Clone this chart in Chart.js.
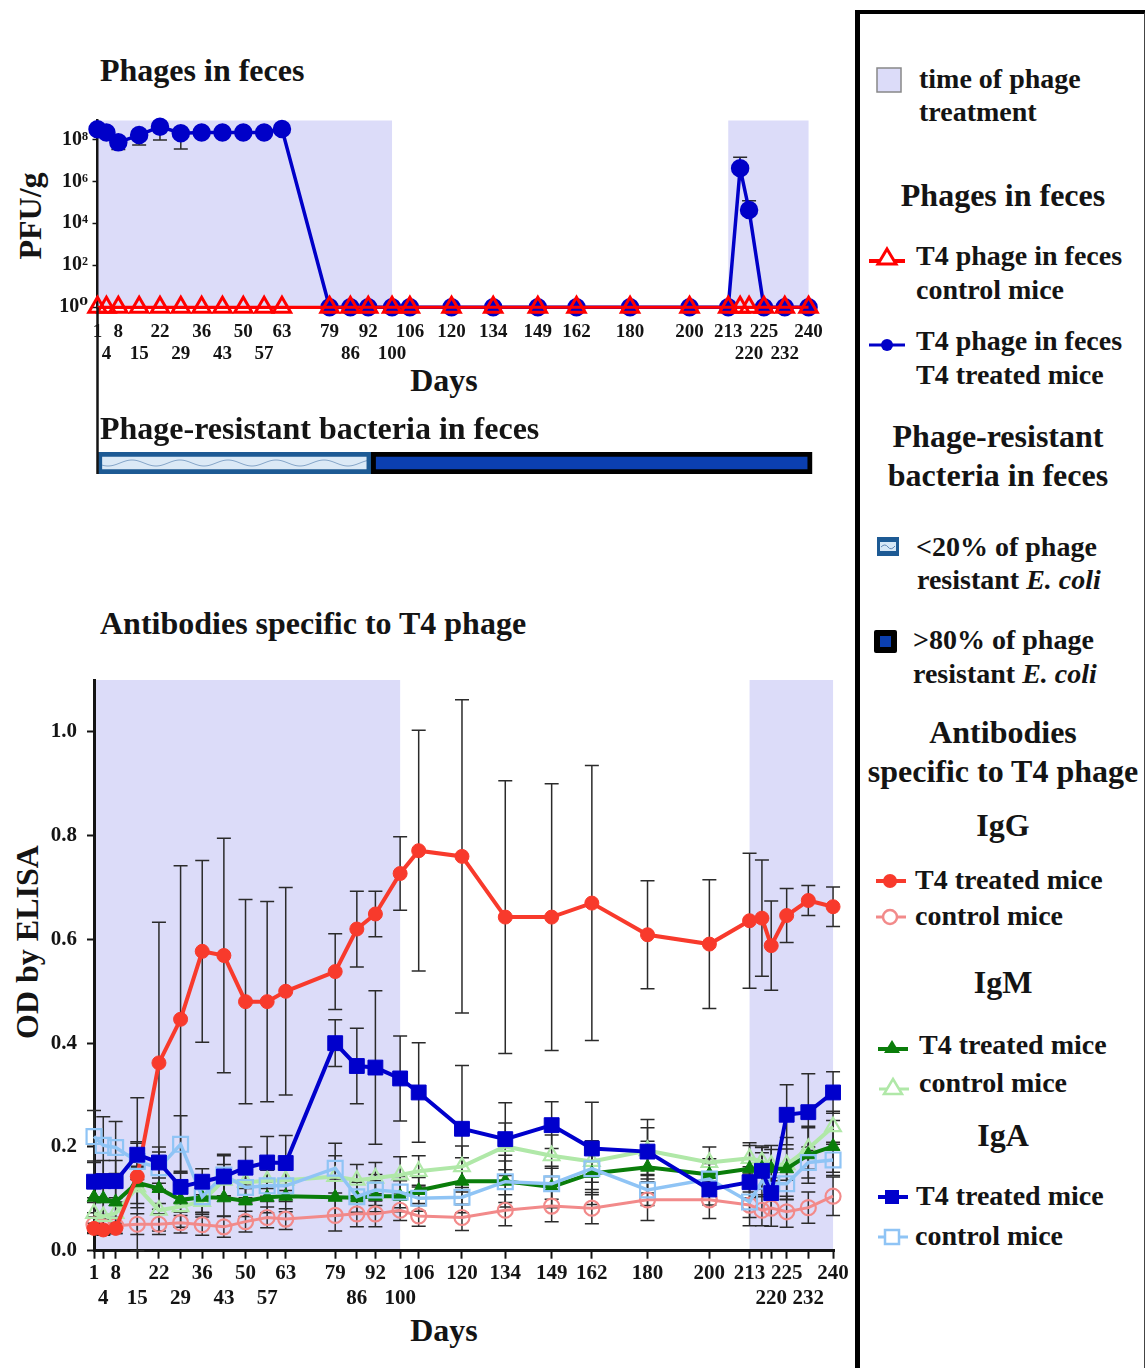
<!DOCTYPE html>
<html>
<head>
<meta charset="utf-8">
<title>T4 phage in mice</title>
<script src="https://cdn.jsdelivr.net/npm/chart.js@4.4.1/dist/chart.umd.min.js"></script>
<style>
  body { margin:0; width:1145px; height:1368px; position:relative; overflow:hidden; background:#fff;
         font-family:'Liberation Serif','DejaVu Serif',serif; font-weight:bold; color:#141414; }
  .box { position:absolute; }
  .t { position:absolute; white-space:nowrap; line-height:1; }
  .h { font-size:32px; }
  .li { font-size:28px; }
  .c { text-align:center; width:284px; left:861px; }
  .mid { transform:translateX(-50%); }
  .vt { position:absolute; white-space:nowrap; line-height:1; font-size:32px; transform:translate(-50%,-50%) rotate(-90deg); }
  #legend { position:absolute; left:855px; top:10px; width:284px; height:1370px;
            border-left:5px solid #000; border-top:4px solid #000; border-right:2px solid #444; }
  svg { position:absolute; }
</style>
</head>
<body>
<!-- plot titles -->
<div class="t h" style="left:100px;top:54px">Phages in feces</div>
<div class="t h" style="left:100px;top:412px;z-index:2">Phage-resistant bacteria in feces</div>
<div class="t h" style="left:100px;top:607px">Antibodies specific to T4 phage</div>
<div class="t h mid" style="left:444px;top:364px">Days</div>
<div class="t h mid" style="left:444px;top:1314px">Days</div>
<div class="vt" style="left:30px;top:216px">PFU/g</div>
<div class="vt" style="left:27px;top:942px">OD by ELISA</div>

<div class="box" style="left:0;top:100px;width:855px;height:300px"><canvas id="phageChart"></canvas></div>
<div class="box" style="left:0;top:400px;width:855px;height:90px"><canvas id="resistChart"></canvas></div>
<div class="box" style="left:0;top:640px;width:855px;height:728px"><canvas id="odChart"></canvas></div>

<!-- legend -->
<div id="legend"></div>
<svg style="left:875px;top:66px" width="28" height="28"><rect x="2" y="2" width="24" height="24" fill="#dcdcf9" stroke="#888" stroke-width="1.5"/></svg>
<div class="t li" style="left:919px;top:65px">time of phage</div>
<div class="t li" style="left:919px;top:98px">treatment</div>

<div class="t h c" style="top:179px">Phages in feces</div>
<svg style="left:867px;top:244px" width="40" height="26"><line x1="2" y1="17" x2="38" y2="17" stroke="#ff0000" stroke-width="4"/><polygon points="20,5 29,20 11,20" fill="#fff" stroke="#ff0000" stroke-width="3"/></svg>
<div class="t li" style="left:916px;top:242px">T4 phage in feces</div>
<div class="t li" style="left:916px;top:276px">control mice</div>
<svg style="left:867px;top:332px" width="40" height="26"><line x1="2" y1="13" x2="38" y2="13" stroke="#0000c8" stroke-width="3"/><circle cx="20" cy="13" r="6" fill="#0000c8"/></svg>
<div class="t li" style="left:916px;top:327px">T4 phage in feces</div>
<div class="t li" style="left:916px;top:361px">T4 treated mice</div>

<div class="t h c" style="top:420px;left:856px">Phage-resistant</div>
<div class="t h c" style="top:459px;left:856px">bacteria in feces</div>
<svg style="left:877px;top:537px" width="22" height="19"><rect x="0" y="0" width="22" height="19" fill="#1d5a94"/><rect x="3" y="5" width="16" height="9" fill="#d6e7f6"/><path d="M4 10 Q8 6 11 10 T18 9" stroke="#5f86b3" fill="none" stroke-width="1"/></svg>
<div class="t li" style="left:916px;top:533px">&lt;20% of phage</div>
<div class="t li" style="left:917px;top:566px">resistant <i>E. coli</i></div>
<svg style="left:874px;top:630px" width="23" height="23"><rect x="0" y="0" width="23" height="23" rx="2" fill="#000"/><rect x="6" y="6" width="11" height="11" fill="#0b3fb0"/></svg>
<div class="t li" style="left:913px;top:626px">&gt;80% of phage</div>
<div class="t li" style="left:913px;top:660px">resistant <i>E. coli</i></div>

<div class="t h c" style="top:716px">Antibodies</div>
<div class="t h c" style="top:755px">specific to T4 phage</div>
<div class="t h c" style="top:809px">IgG</div>
<svg style="left:870px;top:868px" width="40" height="26"><line x1="6" y1="13" x2="36" y2="13" stroke="#f83a2c" stroke-width="4"/><circle cx="20" cy="13" r="7" fill="#f83a2c"/></svg>
<div class="t li" style="left:915px;top:866px">T4 treated mice</div>
<svg style="left:870px;top:904px" width="40" height="26"><line x1="6" y1="13" x2="36" y2="13" stroke="#f28a8a" stroke-width="3"/><circle cx="20" cy="13" r="7" fill="#fff" stroke="#f28a8a" stroke-width="2.5"/></svg>
<div class="t li" style="left:915px;top:902px">control mice</div>

<div class="t h c" style="top:966px">IgM</div>
<svg style="left:872px;top:1034px" width="40" height="26"><line x1="6" y1="15" x2="36" y2="15" stroke="#0a7d0a" stroke-width="4"/><polygon points="20,6 28,19 12,19" fill="#0a7d0a"/></svg>
<div class="t li" style="left:919px;top:1031px">T4 treated mice</div>
<svg style="left:873px;top:1074px" width="40" height="26"><line x1="6" y1="15" x2="36" y2="15" stroke="#b0e8a8" stroke-width="3"/><polygon points="20,5 29,20 11,20" fill="#fff" stroke="#b0e8a8" stroke-width="2.5"/></svg>
<div class="t li" style="left:919px;top:1069px">control mice</div>

<div class="t h c" style="top:1119px">IgA</div>
<svg style="left:872px;top:1184px" width="40" height="26"><line x1="6" y1="13" x2="36" y2="13" stroke="#0000cc" stroke-width="4"/><rect x="13" y="6" width="14" height="14" fill="#0000cc"/></svg>
<div class="t li" style="left:916px;top:1182px">T4 treated mice</div>
<svg style="left:872px;top:1224px" width="40" height="26"><line x1="6" y1="13" x2="36" y2="13" stroke="#8fc4f5" stroke-width="3"/><rect x="13" y="6" width="14" height="14" fill="#fff" stroke="#8fc4f5" stroke-width="2.5"/></svg>
<div class="t li" style="left:915px;top:1222px">control mice</div>

<script>
// sampling days (217 has a tick but no label)
const days = [1, 4, 8, 15, 22, 29, 36, 43, 50, 57, 63, 79, 86, 92, 100, 106, 120, 134, 149, 162, 180, 200, 213, 217, 220, 225, 232, 240];
const labelRowTop = [1, 8, 22, 36, 50, 63, 79, 92, 106, 120, 134, 149, 162, 180, 200, 213, 225, 240];
const labelRowBottom = [4, 15, 29, 43, 57, 86, 100, 220, 232];

// phage treatment windows (days)
const treatStart = [1, 213];
const treatEnd = [100, 240];

// phages in feces, PFU/g
const phageTicks = [1, 1e2, 1e4, 1e6, 1e8];
const phageTreated = [3.0e8, 2.1e8, 7.2e7, 1.6e8, 4.0e8, 1.95e8, 2.1e8, 2.1e8, 2.1e8, 2.1e8, 3.1e8, 1, 1, 1, 1, 1, 1, 1, 1, 1, 1, 1, 1, 4.2e6, 4.3e4, 1, 1, 1];
const phageTreatedLow = [null, null, 3.3e7, 5.4e7, 9.3e7, 3.5e7, null, null, null, null, null, null, null, null, null, null, null, null, null, null, null, null, null, null, null, null, null, null];
const phageTreatedHigh = [null, null, null, null, null, null, null, null, null, null, null, null, null, null, null, null, null, null, null, null, null, null, null, 1.4e7, 1.2e5, null, null, null];
const phageControl = [1, 1, 1, 1, 1, 1, 1, 1, 1, 1, 1, 1, 1, 1, 1, 1, 1, 1, 1, 1, 1, 1, 1, 1, 1, 1, 1, 1];

// phage-resistant bacteria segments (days)
const resistFrom = [1, 93];
const resistTo = [93, 241.2];

// antibodies, OD by ELISA
const odTicks = [0, 0.2, 0.4, 0.6, 0.8, 1.0];
const igGTreated = [0.043, 0.040, 0.043, 0.143, 0.362, 0.446, 0.577, 0.569, 0.480, 0.480, 0.500, 0.538, 0.620, 0.649, 0.727, 0.771, 0.760, 0.643, 0.643, 0.670, 0.609, 0.591, 0.636, 0.641, 0.588, 0.646, 0.675, 0.663];
const igGTreatedErr = [0.01, 0.01, 0.01, 0.152, 0.271, 0.296, 0.175, 0.226, 0.197, 0.193, 0.200, 0.073, 0.073, 0.044, 0.071, 0.232, 0.302, 0.263, 0.257, 0.265, 0.104, 0.124, 0.130, 0.112, 0.086, 0.052, 0.029, 0.038];
const igGControl = [0.050, 0.046, 0.048, 0.051, 0.051, 0.054, 0.050, 0.046, 0.056, 0.064, 0.061, 0.068, 0.071, 0.071, 0.078, 0.067, 0.064, 0.078, 0.086, 0.082, 0.098, 0.098, 0.088, 0.078, 0.082, 0.075, 0.083, 0.105];
const igGControlErr = [0.015, 0.015, 0.015, 0.02, 0.02, 0.02, 0.02, 0.02, 0.02, 0.02, 0.02, 0.03, 0.025, 0.025, 0.02, 0.02, 0.025, 0.03, 0.03, 0.03, 0.04, 0.036, 0.04, 0.03, 0.035, 0.03, 0.03, 0.037];
const igMTreated = [0.103, 0.100, 0.094, 0.131, 0.120, 0.098, 0.103, 0.102, 0.096, 0.103, 0.105, 0.103, 0.102, 0.105, 0.105, 0.116, 0.134, 0.134, 0.123, 0.149, 0.161, 0.147, 0.158, 0.159, 0.158, 0.158, 0.185, 0.201];
const igMTreatedErr = [0.03, 0.03, 0.03, 0.04, 0.04, 0.03, 0.03, 0.035, 0.03, 0.03, 0.03, 0.035, 0.03, 0.03, 0.03, 0.025, 0.045, 0.05, 0.04, 0.06, 0.05, 0.03, 0.045, 0.04, 0.045, 0.06, 0.055, 0.05];
const igMControl = [0.072, 0.066, 0.072, 0.123, 0.078, 0.085, 0.095, 0.136, 0.132, 0.135, 0.136, 0.143, 0.136, 0.140, 0.146, 0.153, 0.162, 0.201, 0.183, 0.172, 0.193, 0.170, 0.178, 0.172, 0.165, 0.166, 0.197, 0.239];
const igMControlErr = [0.03, 0.03, 0.03, 0.04, 0.04, 0.04, 0.03, 0.03, 0.03, 0.03, 0.03, 0.04, 0.03, 0.03, 0.035, 0.03, 0.04, 0.045, 0.04, 0.04, 0.06, 0.03, 0.03, 0.03, 0.03, 0.03, 0.04, 0.03];
const igATreated = [0.133, 0.134, 0.134, 0.185, 0.170, 0.123, 0.133, 0.143, 0.160, 0.170, 0.169, 0.400, 0.356, 0.353, 0.332, 0.305, 0.235, 0.215, 0.242, 0.197, 0.191, 0.118, 0.132, 0.154, 0.111, 0.262, 0.267, 0.305];
const igATreatedErr = [0.04, 0.04, 0.04, 0.025, 0.03, 0.03, 0.025, 0.04, 0.04, 0.05, 0.053, 0.045, 0.073, 0.148, 0.082, 0.096, 0.122, 0.07, 0.045, 0.089, 0.046, 0.03, 0.03, 0.035, 0.03, 0.058, 0.074, 0.04];
const igAControl = [0.220, 0.203, 0.199, 0.172, 0.160, 0.205, 0.104, 0.146, 0.122, 0.125, 0.125, 0.159, 0.104, 0.117, 0.113, 0.101, 0.103, 0.133, 0.129, 0.158, 0.117, 0.138, 0.094, 0.134, 0.129, 0.129, 0.170, 0.175];
const igAControlErr = [0.05, 0.055, 0.05, 0.035, 0.03, 0.055, 0.03, 0.04, 0.03, 0.03, 0.03, 0.048, 0.03, 0.03, 0.03, 0.025, 0.03, 0.04, 0.03, 0.04, 0.03, 0.03, 0.03, 0.03, 0.03, 0.03, 0.03, 0.03];

const SERIF = "'Liberation Serif', 'DejaVu Serif', serif";
const INK = '#141414';
Chart.defaults.font.family = SERIF;
Chart.defaults.font.weight = 'bold';
Chart.defaults.color = INK;

const points = vals => days.map((d, i) => ({ x: d, y: vals[i] }));

function dayLabel(v) {
  if (labelRowTop.includes(v)) return [String(v), ''];
  if (labelRowBottom.includes(v)) return ['', String(v)];
  return '';
}

const SUP = { 0: '\u2070', 2: '\u00b2', 4: '\u2074', 6: '\u2076', 8: '\u2078' };

// lavender band for the treatment periods
const treatmentShade = {
  id: 'treatmentShade',
  beforeDraw(chart) {
    const { ctx, chartArea: a, scales: { x } } = chart;
    ctx.save();
    ctx.fillStyle = '#dcdcf9';
    treatStart.forEach((s, i) => {
      const x0 = x.getPixelForValue(s);
      const x1 = x.getPixelForValue(treatEnd[i]);
      ctx.fillRect(x0, a.top, x1 - x0, a.bottom - a.top);
    });
    ctx.restore();
  }
};

// error bars read from dataset.errLow / dataset.errHigh
const errorBars = {
  id: 'errorBars',
  beforeDatasetsDraw(chart) {
    const { ctx, scales: { x, y } } = chart;
    ctx.save();
    ctx.strokeStyle = '#2b2b2b';
    ctx.lineWidth = 1.5;
    chart.data.datasets.forEach(ds => {
      if (!ds.errLow) return;
      ds.data.forEach((p, i) => {
        const lo = ds.errLow[i], hi = ds.errHigh[i];
        if (lo == null && hi == null) return;
        const px = x.getPixelForValue(p.x);
        const yl = y.getPixelForValue(Math.max(lo ?? p.y, y.min));
        const yh = y.getPixelForValue(hi ?? p.y);
        ctx.beginPath();
        ctx.moveTo(px, yl);
        ctx.lineTo(px, yh);
        if (lo != null) { ctx.moveTo(px - 7, yl); ctx.lineTo(px + 7, yl); }
        if (hi != null) { ctx.moveTo(px - 7, yh); ctx.lineTo(px + 7, yh); }
        ctx.stroke();
      });
    });
    ctx.restore();
  }
};

// the left axis line of the top panel runs down to the resistance bar
const axisDrop = {
  id: 'axisDrop',
  afterDraw(chart, args, opts) {
    const { ctx, chartArea: a } = chart;
    ctx.save();
    ctx.strokeStyle = INK;
    ctx.lineWidth = 2.5;
    ctx.beginPath();
    if (opts.toTop) { ctx.moveTo(a.left, 0); ctx.lineTo(a.left, a.bottom); }
    else { ctx.moveTo(a.left, a.bottom); ctx.lineTo(a.left, chart.height); }
    ctx.stroke();
    ctx.restore();
  }
};

function dayAxis(min, max, opts) {
  return {
    type: 'linear', min, max,
    afterBuildTicks: s => { s.ticks = days.map(d => ({ value: d })); },
    afterFit: s => { s.height = opts.height; },
    ticks: { autoSkip: false, maxRotation: 0, padding: opts.pad, font: { size: opts.font, lineHeight: 1.2 }, callback: v => dayLabel(v) },
    grid: opts.ticks
      ? { drawOnChartArea: false, drawTicks: true, tickLength: 8, tickWidth: 2, tickColor: INK }
      : { display: false },
    border: { display: true, color: opts.borderColor, width: 3 }
  };
}

// ---------- Phages in feces ----------
new Chart(document.getElementById('phageChart'), {
  type: 'line',
  data: {
    datasets: [
      {
        label: 'T4 phage in feces control mice',
        data: points(phageControl),
        borderColor: '#ff0000', borderWidth: 3,
        pointStyle: 'triangle', pointRadius: 10, pointBorderWidth: 3,
        pointBorderColor: '#ff0000', pointBackgroundColor: 'rgba(255,255,255,0)',
        order: 0
      },
      {
        label: 'T4 phage in feces T4 treated mice',
        data: points(phageTreated),
        errLow: phageTreatedLow, errHigh: phageTreatedHigh,
        borderColor: '#0000c8', borderWidth: 3.5,
        pointStyle: 'circle', pointRadius: 7.5,
        pointBorderColor: '#0000c8', pointBackgroundColor: '#0000c8',
        order: 1
      }
    ]
  },
  options: {
    responsive: true, maintainAspectRatio: false, animation: false,
    layout: { padding: { left: 0, right: 39, top: 20.5, bottom: 0 } },
    datasets: { line: { clip: false, tension: 0 } },
    plugins: { legend: { display: false }, tooltip: { enabled: false }, axisDrop: { toTop: false } },
    scales: {
      x: dayAxis(1, 242.5, { height: 92.7, pad: 5, font: 19, ticks: false, borderColor: '#ee1111' }),
      y: {
        type: 'logarithmic', min: 1, max: 7.9e8,
        afterBuildTicks: s => { s.ticks = phageTicks.map(v => ({ value: v })); },
        afterFit: s => { s.width = 97.5; },
        ticks: { padding: 4.5, font: { size: 20 }, callback: v => '10' + SUP[Math.round(Math.log10(v))] },
        grid: { drawOnChartArea: false, tickLength: 5, tickWidth: 1.5, tickColor: INK },
        border: { display: true, color: INK, width: 2.5 }
      }
    }
  },
  plugins: [treatmentShade, errorBars, axisDrop]
});

// ---------- Phage-resistant bacteria bar ----------
function wavePattern() {
  const c = document.createElement('canvas');
  c.width = 48; c.height = 14;
  const g = c.getContext('2d');
  g.fillStyle = '#dbe9f6';
  g.fillRect(0, 0, 48, 14);
  g.strokeStyle = '#86a6c9';
  g.lineWidth = 1;
  g.beginPath();
  for (let x = 0; x <= 48; x++) {
    const yy = 7 + 3 * Math.sin(x / 48 * 2 * Math.PI);
    if (x === 0) g.moveTo(x, yy); else g.lineTo(x, yy);
  }
  g.stroke();
  return g.createPattern(c, 'repeat');
}

new Chart(document.getElementById('resistChart'), {
  type: 'bar',
  data: {
    labels: ['feces'],
    datasets: [
      { label: '<20% of phage resistant E. coli', data: [[resistFrom[0], resistTo[0]]], backgroundColor: wavePattern(),
        borderColor: '#1d5a94', borderWidth: 5, borderSkipped: false, grouped: false, barPercentage: 1, categoryPercentage: 1, order: 1 },
      { label: '>80% of phage resistant E. coli', data: [[resistFrom[1], resistTo[1]]], backgroundColor: '#0b3fb0',
        borderColor: '#000', borderWidth: 5, borderSkipped: false, grouped: false, barPercentage: 1, categoryPercentage: 1, order: 0 }
    ]
  },
  options: {
    indexAxis: 'y', responsive: true, maintainAspectRatio: false, animation: false,
    layout: { padding: { left: 97.5, right: 39, top: 52, bottom: 16 } },
    plugins: { legend: { display: false }, tooltip: { enabled: false }, axisDrop: { toTop: true } },
    scales: {
      x: { type: 'linear', min: 1, max: 242.5, display: false },
      y: { display: false }
    }
  },
  plugins: [axisDrop]
});

// ---------- Antibodies specific to T4 phage ----------
function odSeries(label, vals, err, color, style, filled, radius, width, order) {
  return {
    label,
    data: points(vals),
    errLow: vals.map((v, i) => v - err[i]),
    errHigh: vals.map((v, i) => v + err[i]),
    borderColor: color, borderWidth: width,
    pointStyle: style, pointRadius: radius, pointBorderWidth: filled ? 1 : 2.2,
    pointBorderColor: color, pointBackgroundColor: filled ? color : 'rgba(255,255,255,0)',
    order
  };
}

new Chart(document.getElementById('odChart'), {
  type: 'line',
  data: {
    datasets: [
      odSeries('IgA T4 treated mice', igATreated, igATreatedErr, '#0000cc', 'rect', true, 10.5, 4, 0),
      odSeries('IgA control mice', igAControl, igAControlErr, '#8fc4f5', 'rect', false, 10.5, 3.5, 1),
      odSeries('IgG T4 treated mice', igGTreated, igGTreatedErr, '#f83a2c', 'circle', true, 7, 4, 2),
      odSeries('IgM T4 treated mice', igMTreated, igMTreatedErr, '#0a7d0a', 'triangle', true, 8, 4, 3),
      odSeries('IgM control mice', igMControl, igMControlErr, '#b0e8a8', 'triangle', false, 9, 4, 4),
      odSeries('IgG control mice', igGControl, igGControlErr, '#f28a8a', 'circle', false, 7.5, 3, 5)
    ]
  },
  options: {
    responsive: true, maintainAspectRatio: false, animation: false,
    layout: { padding: { left: 0, right: 20.4, top: 40, bottom: 0 } },
    datasets: { line: { clip: false, tension: 0 } },
    plugins: { legend: { display: false }, tooltip: { enabled: false } },
    scales: {
      x: dayAxis(1, 240.5, { height: 117.3, pad: 2, font: 21, ticks: true, borderColor: INK }),
      y: {
        type: 'linear', min: 0, max: 1.1,
        afterBuildTicks: s => { s.ticks = odTicks.map(v => ({ value: v })); },
        afterFit: s => { s.width = 94; },
        ticks: { padding: 10, font: { size: 21 }, callback: v => v.toFixed(1) },
        grid: { drawOnChartArea: false, tickLength: 7, tickWidth: 2, tickColor: INK },
        border: { display: true, color: INK, width: 3 }
      }
    }
  },
  plugins: [treatmentShade, errorBars]
});
</script>
</body>
</html>
